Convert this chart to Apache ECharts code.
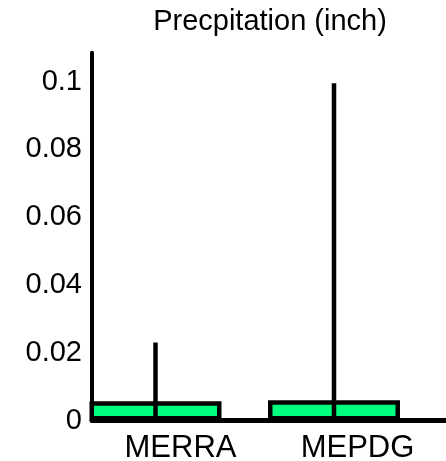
<!DOCTYPE html>
<html>
<head>
<meta charset="utf-8">
<script src="https://cdn.jsdelivr.net/npm/echarts@6/dist/echarts.min.js"></script>
<style>
  html, body { margin: 0; padding: 0; background: #fff; }
  #main { width: 446px; height: 461px; }
</style>
</head>
<body>
<div id="main"></div>
<script>
// 数据
var categories = ["MERRA", "MEPDG"];
var meanValues = [0.0057, 0.006];
var errorValues = [0.023, 0.0995];
var yTickStep = 0.02;
var yMax = 0.1085;

var chart = echarts.init(document.getElementById("main"));

var font = "Liberation Sans, Arial, sans-serif";

// 误差线
function renderError(params, api) {
  var i = api.value(0);
  var bottom = api.coord([i, 0]);
  var top = api.coord([i, api.value(1)]);
  return {
    type: "line",
    shape: { x1: bottom[0], y1: bottom[1], x2: top[0], y2: top[1] },
    style: { stroke: "#000", lineWidth: 4.5 }
  };
}

chart.setOption({
  animation: false,
  title: {
    text: "Precpitation (inch)",
    left: 270,
    textAlign: "center",
    top: 7,
    padding: 0,
    textStyle: { fontFamily: font, fontSize: 29, fontWeight: "normal", color: "#000" }
  },
  grid: [
    // 坐标轴
    { left: 92, right: 0, top: 52.7, bottom: 40.5, outerBoundsMode: "none" },
    // 柱子
    { left: 66.25, right: 22.75, top: 52.7, bottom: 40.5, outerBoundsMode: "none" }
  ],
  xAxis: [
    {
      type: "category",
      gridIndex: 0,
      data: categories,
      axisLine: { lineStyle: { color: "#000", width: 5 } },
      axisTick: { show: false },
      axisLabel: { fontFamily: font, fontSize: 31, color: "#000", margin: 12 }
    },
    {
      type: "category",
      gridIndex: 1,
      data: categories,
      show: false
    }
  ],
  yAxis: [
    {
      type: "value",
      gridIndex: 0,
      min: 0,
      max: yMax,
      interval: yTickStep,
      axisLine: { show: true, lineStyle: { color: "#000", width: 4 } },
      axisTick: { show: false },
      splitLine: { show: false },
      axisLabel: {
        fontFamily: font,
        fontSize: 29,
        color: "#000",
        margin: 10,
        formatter: function (v) {
          var k = v / yTickStep;
          if (Math.abs(k - Math.round(k)) > 1e-6) return "";
          return String(+v.toFixed(2));
        }
      }
    },
    {
      type: "value",
      gridIndex: 1,
      min: 0,
      max: yMax,
      show: false
    }
  ],
  series: [
    {
      type: "bar",
      xAxisIndex: 1,
      yAxisIndex: 1,
      barWidth: 132,
      data: meanValues,
      itemStyle: { color: "#00ff7f", borderColor: "#000", borderWidth: 4.5 },
      z: 2
    },
    {
      type: "custom",
      xAxisIndex: 1,
      yAxisIndex: 1,
      renderItem: renderError,
      data: errorValues.map(function (v, i) { return [i, v]; }),
      z: 3
    }
  ]
});
</script>
</body>
</html>
